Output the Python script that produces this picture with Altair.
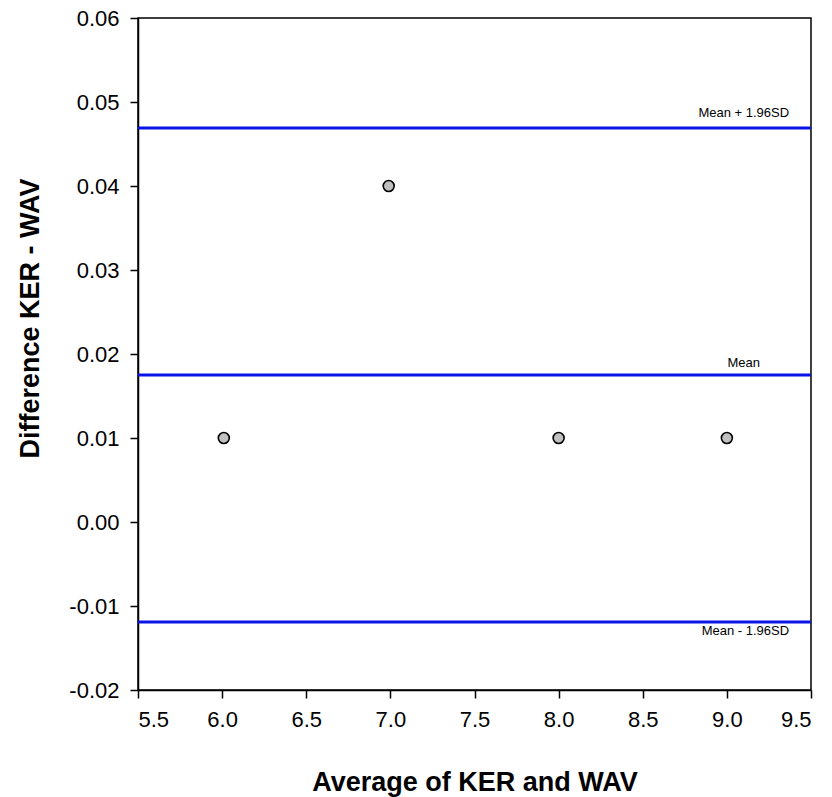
import altair as alt
import pandas as pd

# Bland-Altman data: averages and differences of the two methods
averages = [6.01, 6.99, 8.0, 9.0]
differences = [0.01, 0.04, 0.01, 0.01]

# Reference lines: mean difference and limits of agreement
line_names = ["Mean + 1.96SD", "Mean", "Mean - 1.96SD"]
line_values = [0.0469, 0.0175, -0.0119]
label_x = [9.37, 9.10, 9.37]
label_align = ["right", "center", "right"]
label_dy = [-15, -12, 9]

FONT = "Liberation Sans"

points = pd.DataFrame({"avg": averages, "diff": differences})
lines = pd.DataFrame({
    "name": line_names,
    "value": line_values,
    "lx": label_x,
})

x_scale = alt.Scale(domain=[5.5, 9.5], nice=False, zero=False)
y_scale = alt.Scale(domain=[-0.02, 0.06], nice=False, zero=False)

# Plain hyphen for negative tick labels
hyphen_expr = "replace(datum.label, '\u2212', '-')"

x_axis = alt.Axis(
    title="Average of KER and WAV",
    values=[5.5, 6.0, 6.5, 7.0, 7.5, 8.0, 8.5, 9.0, 9.5],
    format=".1f",
    grid=False,
    tickSize=8,
    labelPadding=11,
    titleY=100,
    titleBaseline="alphabetic",
)
y_axis = alt.Axis(
    title="Difference KER - WAV",
    values=[-0.02, -0.01, 0.0, 0.01, 0.02, 0.03, 0.04, 0.05, 0.06],
    format=".2f",
    labelExpr=hyphen_expr,
    grid=False,
    tickSize=8,
    labelPadding=11,
    titleX=-100,
    titleY=300,
    titleBaseline="alphabetic",
)

rules = alt.Chart(lines).mark_rule(color="#0a14e6", strokeWidth=3).encode(
    y=alt.Y("value:Q", scale=y_scale, axis=y_axis),
)

dots = alt.Chart(points).mark_point(
    filled=True, fill="#c0c0c0", stroke="#000000", strokeWidth=1.6,
    size=120, opacity=1, shape="circle",
).encode(
    x=alt.X("avg:Q", scale=x_scale, axis=x_axis),
    y=alt.Y("diff:Q", scale=y_scale, axis=y_axis),
)

labels = []
for i, name in enumerate(line_names):
    sub = lines[lines["name"] == name]
    labels.append(
        alt.Chart(sub).mark_text(
            font=FONT, fontSize=13, color="#000000",
            align=label_align[i], dy=label_dy[i],
        ).encode(
            x=alt.X("lx:Q", scale=x_scale),
            y=alt.Y("value:Q", scale=y_scale),
            text="name:N",
        )
    )

chart = alt.layer(rules, dots, *labels).properties(
    width=673,
    height=672,
    padding={"left": 138, "top": 18, "right": 21, "bottom": 107},
    autosize=alt.AutoSizeParams(type="none"),
    background="white",
).configure_view(
    stroke="#000000", strokeWidth=1.5,
).configure_axis(
    labelFont=FONT, titleFont=FONT,
    labelFontSize=22, titleFontSize=27, titleFontWeight="bold",
    labelColor="#000000", titleColor="#000000",
    domainColor="#000000", tickColor="#000000",
    domainWidth=1.5, tickWidth=1.5,
)

chart.save("out.html", embed_options={"renderer": "svg", "actions": False})
